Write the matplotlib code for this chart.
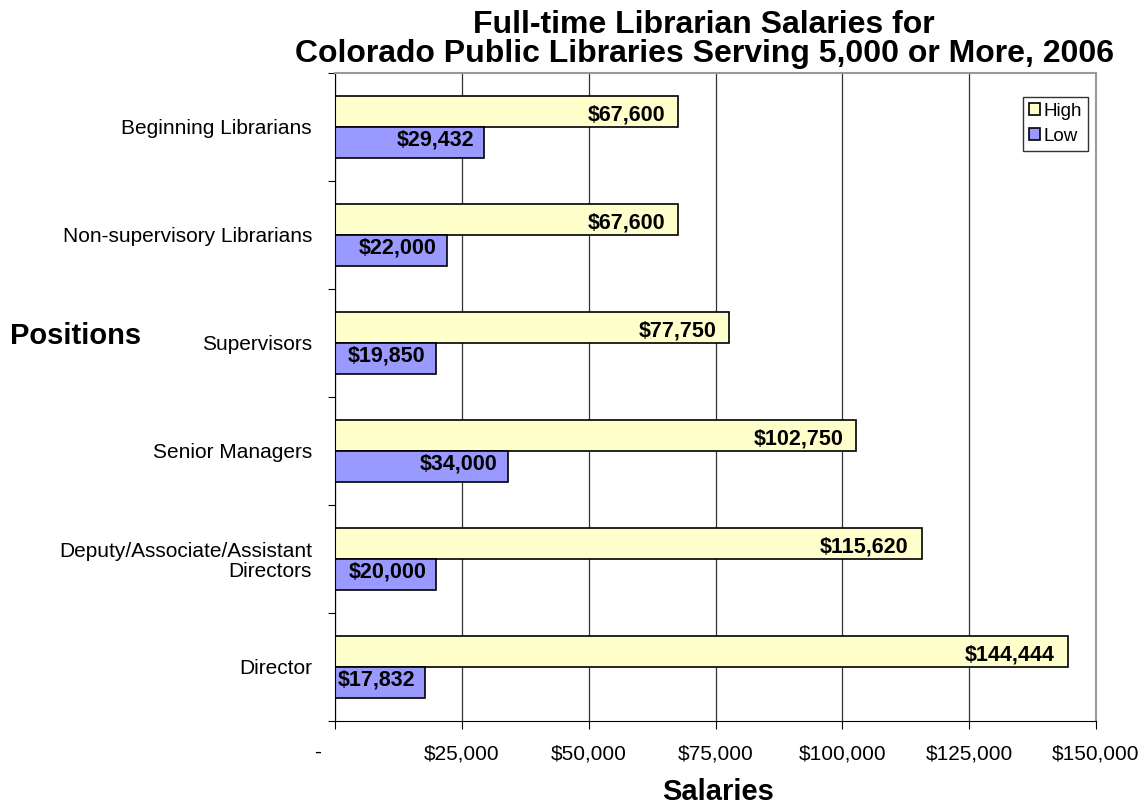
import numpy as np
import matplotlib.pyplot as plt
from matplotlib.ticker import FuncFormatter

plt.rcParams["font.family"] = ["Liberation Sans", "DejaVu Sans"]

positions = ["Beginning Librarians", "Non-supervisory Librarians", "Supervisors",
             "Senior Managers", "Deputy/Associate/Assistant\nDirectors", "Director"]
high = [67600, 67600, 77750, 102750, 115620, 144444]
low = [29432, 22000, 19850, 34000, 20000, 17832]
xticks = [0, 25000, 50000, 75000, 100000, 125000, 150000]

high_kw = {"color": "#FFFFCC", "edgecolor": "black", "lw": 1.2}
low_kw = {"color": "#9999FF", "edgecolor": "black", "lw": 1.2}
val_kw = {"fontweight": "bold", "fontsize": 15.5, "ha": "right", "va": "center",
          "textcoords": "offset pixels"}

fig = plt.figure(figsize=(11.43, 8.09), dpi=100)
ax = fig.add_axes([0.2931, 0.1088, 0.6658, 0.8010])

n = len(positions)
y = np.arange(n)[::-1]  # first category on top
h = 0.287

ax.barh(y + h / 2, high, height=h, label="High", **high_kw)
ax.barh(y - h / 2, low, height=h, label="Low", **low_kw)

for yi, v in zip(y, high):
    ax.annotate(f"${v:,}", (v, yi + h / 2), xytext=(-13, -4), **val_kw)
for yi, v in zip(y, low):
    ax.annotate(f"${v:,}", (v, yi - h / 2), xytext=(-10, 2), **val_kw)

# axes config
ax.set_xlim(0, 150000)
ax.set_ylim(-0.5, n - 0.5)
ax.set_xticks(xticks)
ax.xaxis.set_major_formatter(FuncFormatter(lambda v, p: "" if v == 0 else f"${v:,.0f}"))
ax.annotate("-", (0, 0), xycoords=("data", "axes fraction"), xytext=(-17, -31),
            textcoords="offset pixels", ha="center", va="center", fontsize=15)
ax.set_yticks(np.arange(-0.5, n, 1.0))
ax.set_yticklabels([])
ax.set_yticks(y, minor=True)
ax.set_yticklabels(positions, minor=True, fontsize=15, ha="right", multialignment="right",
                   linespacing=1.1)
ax.tick_params(axis="y", which="minor", length=0, pad=16.5)
ax.tick_params(axis="y", which="major", length=5, direction="out")
ax.tick_params(axis="x", length=6, labelsize=15, pad=11)
ax.grid(True, axis="x", color="#333333", lw=0.9)
ax.set_axisbelow(True)
for s in ["top", "right"]:
    ax.spines[s].set_color("#999999")
    ax.spines[s].set_linewidth(1.5)
ax.spines["left"].set_color("black")
ax.spines["bottom"].set_color("black")

fig.text(0.628, 0.021, "Salaries", fontsize=21, fontweight="bold", ha="center", va="center")
fig.text(0.009, 0.585, "Positions", fontsize=21, fontweight="bold", ha="left", va="center")
fig.suptitle("Full-time Librarian Salaries for\nColorado Public Libraries Serving 5,000 or More, 2006",
             x=0.616, y=0.988, fontsize=23, fontweight="bold", linespacing=0.97)

ax.legend(loc="upper right", bbox_to_anchor=(0.9895, 0.963), fontsize=13.5, frameon=True,
          fancybox=False, edgecolor="black", handlelength=0.6, handleheight=0.6,
          handletextpad=0.2, borderpad=0.3, labelspacing=0.45, borderaxespad=0)

plt.savefig("out.png", dpi=100)
